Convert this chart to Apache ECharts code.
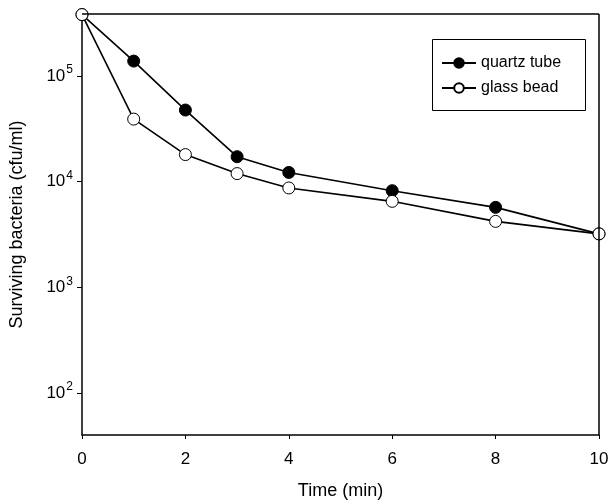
<!DOCTYPE html>
<html><head><meta charset="utf-8">
<script src="https://cdn.jsdelivr.net/npm/echarts@6/dist/echarts.min.js"></script>
<style>html,body{margin:0;padding:0;background:#fff}#c{width:609px;height:501px}</style>
</head><body><div id="c"></div>
<script>
const times = [0, 1, 2, 3, 4, 6, 8, 10];
const quartzTube = [380000, 138000, 47500, 17200, 12200, 8200, 5700, 3200];
const glassBead = [380000, 39000, 18000, 11900, 8700, 6500, 4200, 3200];
const yTicks = [100, 1000, 10000, 100000];
const xTicks = [0, 2, 4, 6, 8, 10];

const FONT = '"Liberation Sans", Arial, sans-serif';
const chart = echarts.init(document.getElementById('c'), null, {renderer: 'canvas'});
const pair = (arr) => times.map((t, i) => [t, arr[i]]);
chart.setOption({
  animation: false,
  backgroundColor: '#fff',
  textStyle: {fontFamily: FONT, color: '#000'},
  grid: {left: 82, right: 10, top: 14, bottom: 66, containLabel: false, outerBoundsMode: 'none', show: false},
  graphic: [{
    type: 'rect', left: 432, top: 39, silent: true, z: 0,
    shape: {width: 153, height: 71},
    style: {fill: '#fff', stroke: '#000', lineWidth: 1}
  }],
  legend: {
    orient: 'vertical', left: 432, top: 39, z: 10,
    padding: [16, 18, 16, 9], itemGap: 9, itemWidth: 34, itemHeight: 12,
    textStyle: {fontFamily: FONT, fontSize: 16, color: '#000'},
    data: ['quartz tube', 'glass bead']
  },
  xAxis: {
    type: 'value', min: 0, max: 10, interval: 2,
    name: 'Time (min)', nameLocation: 'middle', nameGap: 47,
    nameTextStyle: {fontFamily: FONT, fontSize: 18, color: '#000'},
    axisLine: {show: true, onZero: false, lineStyle: {color: '#000', width: 1.5}},
    axisTick: {show: true, inside: false, length: 4, lineStyle: {color: '#000', width: 1}},
    axisLabel: {fontFamily: FONT, fontSize: 17, color: '#000', margin: 16,
      customValues: xTicks},
    splitLine: {show: false}
  },
  yAxis: {
    type: 'log', logBase: 10, min: 40, max: 385000,
    name: 'Surviving bacteria (cfu/ml)', nameLocation: 'middle', nameGap: 56,
    nameTextStyle: {fontFamily: FONT, fontSize: 18, color: '#000'},
    axisLine: {show: true, lineStyle: {color: '#000', width: 1.5}},
    axisTick: {show: true, inside: false, length: 5, customValues: yTicks, lineStyle: {color: '#000', width: 1}},
    axisLabel: {
      customValues: yTicks, margin: 9,
      formatter: (v) => '{b|10}{s|' + Math.round(Math.log10(v)) + '}',
      rich: {
        b: {fontFamily: FONT, fontSize: 17, color: '#000'},
        s: {fontFamily: FONT, fontSize: 12, color: '#000', padding: [0, 0, 12, 1]}
      }
    },
    splitLine: {show: false}
  },
  series: [
    {
      name: 'quartz tube', type: 'line', data: pair(quartzTube),
      symbol: 'circle', symbolSize: 12,
      lineStyle: {color: '#000', width: 1.6},
      itemStyle: {color: '#000', borderColor: '#000', borderWidth: 1}
    },
    {
      name: 'glass bead', type: 'line', data: pair(glassBead),
      symbol: 'circle', symbolSize: 12,
      lineStyle: {color: '#000', width: 1.6},
      itemStyle: {color: '#fff', borderColor: '#000', borderWidth: 1}
    },
    {
      type: 'line', data: [], markLine: {silent: true, symbol: 'none', label: {show: false},
        lineStyle: {color: '#000', width: 1.5, type: 'solid'},
        data: [[{xAxis: 0, yAxis: 385000}, {xAxis: 10, yAxis: 385000}],
               [{xAxis: 10, yAxis: 40}, {xAxis: 10, yAxis: 385000}]]}
    }
  ]
});
</script></body></html>
